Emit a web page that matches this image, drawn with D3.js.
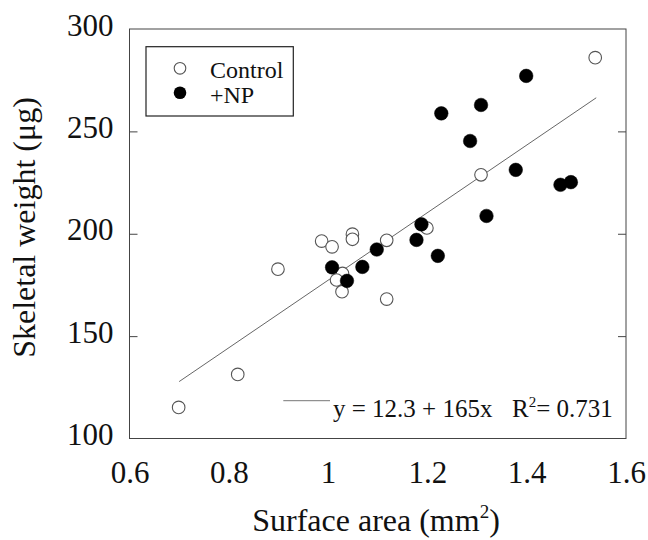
<!DOCTYPE html>
<html>
<head>
<meta charset="utf-8">
<script src="https://cdn.jsdelivr.net/npm/d3@7"></script>
<style>
html,body{margin:0;padding:0;background:#fff;}
svg{display:block;}
text{font-family:"Liberation Serif","Times New Roman",serif;fill:#111;}
</style>
</head>
<body>
<svg id="chart" width="648" height="540"></svg>
<script>
// Data
const controlX = [0.699, 0.818, 0.899, 0.987, 1.008, 1.049, 1.049, 1.029, 1.017, 1.028, 1.118, 1.118, 1.199, 1.308, 1.538];
const controlY = [115.2, 131.3, 182.7, 196.4, 193.6, 199.8, 197.3, 180.6, 177.4, 171.7, 196.8, 168.1, 202.8, 228.8, 286.0];
const npX = [1.008, 1.038, 1.069, 1.098, 1.178, 1.188, 1.221, 1.228, 1.286, 1.308, 1.319, 1.378, 1.399, 1.468, 1.489];
const npY = [183.6, 177.0, 183.8, 192.3, 197.0, 204.6, 189.2, 258.8, 245.3, 262.9, 208.7, 231.2, 277.1, 223.9, 225.2];
const xTicks = [0.6, 0.8, 1.0, 1.2, 1.4, 1.6];
const yTicks = [100, 150, 200, 250, 300];
const fitIntercept = 12.3;
const fitSlope = 165;
const fitRange = [0.7, 1.54];
const seriesNames = ["Control", "+NP"];

const svg = d3.select("#chart");
const pLeft = 129.5, pRight = 626, pTop = 29, pBottom = 438.5;

const x = d3.scaleLinear().domain([0.6, 1.6]).range([pLeft, pRight]);
const y = d3.scaleLinear().domain([100, 300]).range([pBottom, pTop]);

// frame
svg.append("rect")
  .attr("x", pLeft).attr("y", pTop)
  .attr("width", pRight - pLeft).attr("height", pBottom - pTop)
  .attr("fill", "none").attr("stroke", "#444").attr("stroke-width", 1);

// y ticks inside on both sides
const yAxisL = d3.axisLeft(y).tickValues(yTicks).tickSizeInner(-8).tickSizeOuter(0).tickPadding(16).tickFormat(d3.format("d"));
const gy = svg.append("g").attr("transform", `translate(${pLeft},0)`).call(yAxisL);
gy.select(".domain").remove();
gy.selectAll(".tick line").attr("stroke", "#444");
gy.selectAll(".tick text").attr("font-size", 31).attr("dy", "0.2em")
  .style("font-family", '"Liberation Serif",serif').attr("fill", "#111");
gy.selectAll(".tick").filter(d => d === 100 || d === 300).select("line").remove();

const yAxisR = d3.axisRight(y).tickValues(yTicks.filter(d => d !== 100 && d !== 300)).tickSizeInner(-8).tickSizeOuter(0).tickFormat("");
const gyr = svg.append("g").attr("transform", `translate(${pRight},0)`).call(yAxisR);
gyr.select(".domain").remove();
gyr.selectAll(".tick line").attr("stroke", "#444");

// x tick labels
const xAxis = d3.axisBottom(x).tickValues(xTicks).tickSize(0).tickPadding(22).tickFormat(d => d3.format("")(+d.toFixed(1)));
const gx = svg.append("g").attr("transform", `translate(0,${pBottom})`).call(xAxis);
gx.select(".domain").remove();
gx.selectAll(".tick text").attr("font-size", 31).attr("dy", "0.71em")
  .style("font-family", '"Liberation Serif",serif').attr("fill", "#111");

// regression line
const lineGen = d3.line().x(d => x(d)).y(d => y(fitIntercept + fitSlope * d));
svg.append("path").datum(fitRange).attr("d", lineGen)
  .attr("fill", "none").attr("stroke", "#555").attr("stroke-width", 0.9);

// points
const controlPts = controlX.map((v, i) => [v, controlY[i]]);
const npPts = npX.map((v, i) => [v, npY[i]]);
svg.append("g").selectAll("circle").data(controlPts).join("circle")
  .attr("cx", d => x(d[0])).attr("cy", d => y(d[1])).attr("r", 6.3)
  .attr("fill", "#fff").attr("stroke", "#555").attr("stroke-width", 1.1);
svg.append("g").selectAll("circle").data(npPts).join("circle")
  .attr("cx", d => x(d[0])).attr("cy", d => y(d[1])).attr("r", 6.8)
  .attr("fill", "#000").attr("stroke", "#000").attr("stroke-width", 0.5);

// legend
const lg = svg.append("g");
lg.append("rect").attr("x", 146).attr("y", 46.7).attr("width", 147.3).attr("height", 69.3)
  .attr("fill", "#fff").attr("stroke", "#222").attr("stroke-width", 1.2);
lg.append("circle").attr("cx", 180).attr("cy", 68.3).attr("r", 5.8)
  .attr("fill", "#fff").attr("stroke", "#555").attr("stroke-width", 1.1);
lg.append("circle").attr("cx", 180).attr("cy", 92.7).attr("r", 6.3).attr("fill", "#000");
lg.append("text").attr("x", 210).attr("y", 78.3).attr("font-size", 24).text(seriesNames[0]);
lg.append("text").attr("x", 210).attr("y", 102.7).attr("font-size", 24).text(seriesNames[1]);

// fit legend
svg.append("line").attr("x1", 283.3).attr("x2", 330).attr("y1", 400.7).attr("y2", 400.7)
  .attr("stroke", "#777").attr("stroke-width", 1);
svg.append("text").attr("x", 333).attr("y", 416.7).attr("font-size", 25)
  .text(`y = ${fitIntercept} + ${fitSlope}x`);
const r2 = svg.append("text").attr("x", 512).attr("y", 416.7).attr("font-size", 25);
r2.append("tspan").text("R");
r2.append("tspan").attr("font-size", 15).attr("dy", -10).text("2");
r2.append("tspan").attr("dy", 10).text("= 0.731");

// axis titles
const xt = svg.append("text").attr("x", 376).attr("y", 531).attr("text-anchor", "middle").attr("font-size", 32);
xt.append("tspan").text("Surface area (mm");
xt.append("tspan").attr("font-size", 19).attr("dy", -13).text("2");
xt.append("tspan").attr("dy", 13).text(")");

svg.append("text").attr("transform", "translate(35,227.5) rotate(-90)")
  .attr("text-anchor", "middle").attr("font-size", 32).text("Skeletal weight (μg)");
</script>
</body>
</html>
